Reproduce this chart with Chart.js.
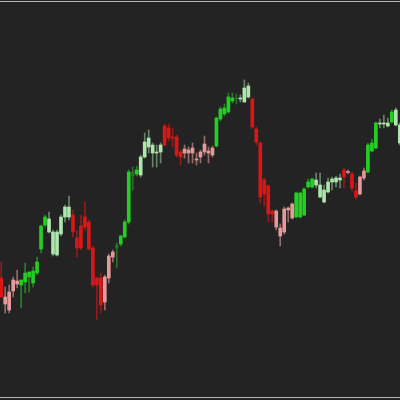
<!DOCTYPE html>
<html><head><meta charset="utf-8">
<script src="https://cdn.jsdelivr.net/npm/chart.js@4/dist/chart.umd.min.js"></script>
<style>
html,body{margin:0;padding:0;background:#232323;overflow:hidden}
#wrap{position:relative;width:400px;height:400px;background:#232323}
.ln{position:absolute;left:0;width:400px;height:1px;background:#b8b8b8}
canvas{position:absolute;left:0;top:0}
</style></head><body>
<div id="wrap"><canvas id="c" width="400" height="400"></canvas>
<div class="ln" style="top:1px"></div><div class="ln" style="top:397px"></div></div>
<script>
// candle colour class: G strong up, g weak up, R strong down, r weak down, d dark
const kind = [..."RrrrrGGGGGGGggggggRRRRRRRRrrrdGGGdGggggggRRRRRrrrrrrrrGGGGGdgggRRRRRRrrrrrGGGGGgggggggRrRRrrGGGgggGgg"];
const open = [122,103,108,120,119,115,118,123,117,127,151,175,168,146,145,166,183,183,185,162,174,183,178,152,122,122,123,144,148,152,156,163,178,224,226,225,243,253,247,247,248,274,272,263,263,248,251,250,252,241,248,256,249,252,254,281,286,288,299,301,302,298,303,301,271,257,220,214,189,189,172,191,192,196,183,183,185,213,213,215,203,198,208,218,218,220,230,228.5,226,209,223,229,228,249,252,276,276,274,278,275,257];
const close = [103,96,90,109,116,120,127,128,129,138,174,183,181,168,168,183,193,193,168,152,152,173,151,115,115,95,98,122,143,155,164,178,228,228,230,243,258,262,255,248,255,255,262,262,245,243,247,247,247,240,243,248,247,245,282,291,292,303,302,302,301,312,314,273,258,203,206,186,186,173,164,168,190,182,207,207,211,218,221,220,215,210,218,221,222,222,223,227.5,212,203,206,222,255,257,277,277,277,277,288,290,275];
const high = [138,113,115,123,130,120,137,128,133,143,175,185,188,170,170,185,195,204,190,170,185,198,180,154,123,127,125,146,150,157,165,180,230,233,234,245,267,270,257,255,257,276,276,272,265,250,255,253,257,247,250,264,253,254,283,293,296,307,307,306,305,320,317,302,273,258,222,215,190,190,176,193,193,197,208,208,212,221,222,227,227,215,222,223,224,226,232,230,228,217,224,232,257,261,278,281,285,282,290,292,277];
const low = [103,87,87,103,112,92,107,108,113,125,147,173,167,144,144,164,178,180,163,143,150,170,150,113,80,87,90,117,138,132,154,162,176,210,224,223,242,247,233,233,237,254,259,253,243,235,242,237,237,235,237,245,237,243,253,279,284,287,297,296,298,298,302,272,255,197,194,178,178,170,154,166,178,181,182,182,184,212,212,212,202,197,207,210,213,212,212,226,209,201,205,220,227,248,251,272,272,273,277,274,255];

const bodyCol = {G:'#24cf24', g:'#aee6ae', R:'#dc1616', r:'#e49a9a', d:'#2c6a2c'};
const wickCol = {G:'rgba(36,207,36,0.55)', g:'rgba(174,230,174,0.5)', R:'rgba(220,22,22,0.6)', r:'rgba(228,154,154,0.6)', d:'rgba(44,120,44,0.9)'};

const bodies = open.map((o,i)=>({x:i, y:[o, close[i]]}));
const wicks = low.map((l,i)=>({x:i, y:[l, high[i]]}));

new Chart(document.getElementById('c'), {
  type:'bar',
  data:{datasets:[
    {data:wicks, grouped:false, barThickness:1, borderWidth:0,
     backgroundColor: kind.map(k=>wickCol[k]), order:2},
    {data:bodies, grouped:false, barThickness:3, borderWidth:0, minBarLength:1,
     backgroundColor: kind.map(k=>bodyCol[k]), order:1}
  ]},
  options:{
    responsive:false, animation:false, devicePixelRatio:1,
    layout:{padding:0},
    plugins:{legend:{display:false}, tooltip:{enabled:false}},
    scales:{
      x:{type:'linear', min:-0.3, max:100.05, display:false, offset:false},
      y:{min:0, max:400, display:false}
    }
  }
});
</script>
</body></html>
